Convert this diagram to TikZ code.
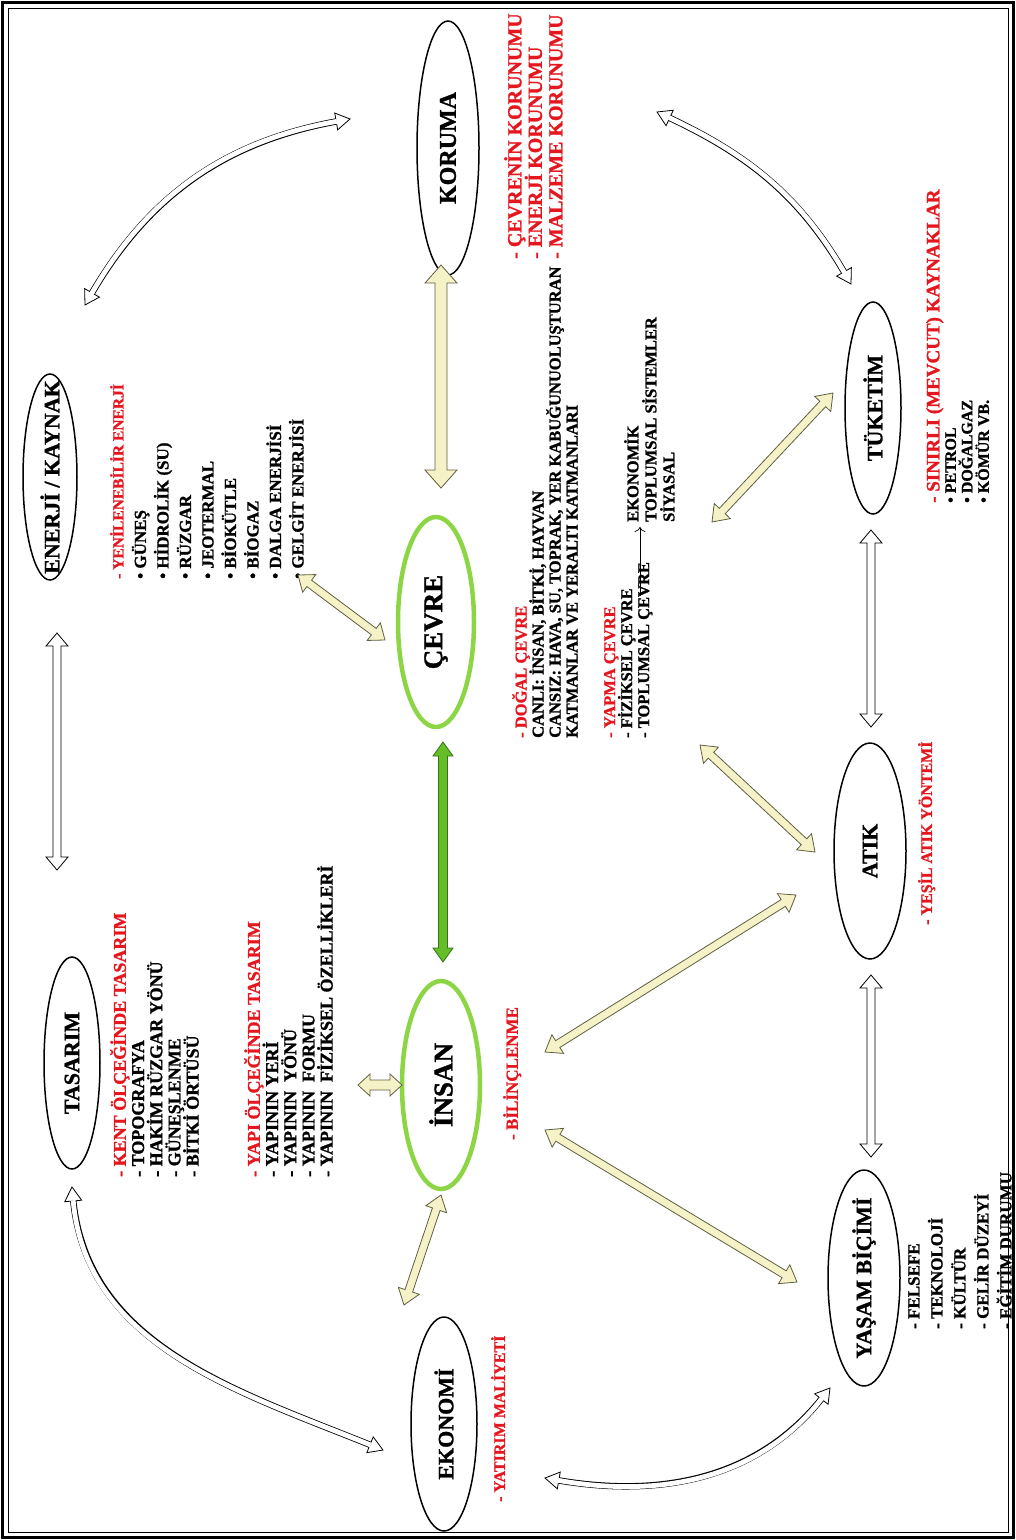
\documentclass[tikz,border=0pt]{standalone}
\usepackage{fontspec}
\setmainfont{Liberation Serif}[BoldFeatures={FakeBold=1.2}]
\usetikzlibrary{calc,shapes.geometric,arrows.meta}
\definecolor{txtred}{RGB}{228,22,30}
\definecolor{ovalgreen}{RGB}{140,214,70}
\definecolor{cream}{RGB}{245,242,200}
\definecolor{olive}{RGB}{95,95,65}
\definecolor{leaf}{RGB}{100,190,40}
\definecolor{leafdark}{RGB}{55,115,20}
\lineskiplimit=-100pt
\newcommand{\setfs}[2]{\fontsize{#1}{#2}\selectfont\bfseries}
\newcommand{\red}[1]{\textcolor{txtred}{#1}}
% straight block arrow with a head at both ends
\newcommand{\blockarrow}[6]{%
  \coordinate (ha) at ($(#2)!#4!(#3)$);
  \coordinate (hb) at ($(#3)!#4!(#2)$);
  \draw[#1] (#2) -- ($(ha)!#5!90:(#3)$) -- ($(ha)!#6!90:(#3)$)
    -- ($(hb)!#6!-90:(#2)$) -- ($(hb)!#5!-90:(#2)$) -- (#3)
    -- ($(hb)!#5!90:(#2)$) -- ($(hb)!#6!90:(#2)$)
    -- ($(ha)!#6!-90:(#3)$) -- ($(ha)!#5!-90:(#3)$) -- cycle;
}
% bent hollow arrow, heads at both ends
\newcommand{\bentarrow}[4]{%
  \draw[line width=6.4pt, shorten <=10pt, shorten >=10pt] (#1) to[out=#3, in=#4] (#2);
  \draw[hollow] (#1) -- ($(#1)+(#3:14)+(#3+90:8.5)$) -- ($(#1)+(#3:14)+(#3-90:8.5)$) -- cycle;
  \draw[hollow] (#2) -- ($(#2)+(#4:14)+(#4+90:8.5)$) -- ($(#2)+(#4:14)+(#4-90:8.5)$) -- cycle;
  \draw[white, line width=4.8pt, shorten <=13.3pt, shorten >=13.3pt] (#1) to[out=#3, in=#4] (#2);
}
\tikzset{
 oval/.style={ellipse, draw, line width=1.5pt, rotate=90, inner sep=0pt, font=\setfs{22}{26}},
 greenoval/.style={oval, draw=ovalgreen, line width=4.5pt, font=\setfs{27}{30}},
 list/.style={rotate=90, anchor=north west, inner sep=0pt, align=left},
 hollow/.style={draw=black, fill=white, line width=0.8pt},
 yellowish/.style={draw=olive, fill=cream, line width=0.8pt},
 greenish/.style={draw=leafdark, fill=leaf, line width=0.8pt},
}

\begin{document}
\begin{tikzpicture}[x=1pt, y=1pt]
\useasboundingbox (0,0) rectangle (1016,-1540);
% frame
\draw[line width=2.4pt] (2.5,-2.5) rectangle (1013.5,-1537.5);
\draw[line width=1pt] (8,-8) rectangle (1008,-1532);

% ovals
\node[oval, minimum width=206pt, minimum height=54pt] (enerji) at (50,-477) {\makebox[0pt]{ENERJİ / KAYNAK}};
\node[oval, minimum width=212pt, minimum height=56pt] (tasarim) at (72,-1063) {\makebox[0pt]{TASARIM}};
\node[oval, minimum width=254pt, minimum height=62pt, font=\setfs{24}{28}] (koruma) at (448,-148) {\makebox[0pt]{KORUMA}};
\node[greenoval, minimum width=210pt, minimum height=76pt] (cevre) at (436,-622) {\makebox[0pt]{ÇEVRE}};
\node[greenoval, minimum width=208pt, minimum height=78pt] (insan) at (441,-1085) {\makebox[0pt]{İNSAN}};
\node[oval, minimum width=214pt, minimum height=66pt] (ekonomi) at (444,-1424) {\makebox[0pt]{EKONOMİ}};
\node[oval, minimum width=212pt, minimum height=56pt] (tuketim) at (873,-408) {\makebox[0pt]{TÜKETİM}};
\node[oval, minimum width=216pt, minimum height=72pt] (atik) at (870,-851) {\makebox[0pt]{ATIK}};
\node[oval, minimum width=216pt, minimum height=72pt] (yasam) at (864,-1278) {\makebox[0pt]{YAŞAM BİÇİMİ}};

% lists
\node[list, font=\setfs{20}{20.5}, text=txtred] (korumaList) at (504,-259)
  {- ÇEVRENİN KORUNUMU\\- ENERJİ KORUNUMU\\- MALZEME KORUNUMU};
\node[list, font=\setfs{17}{22.5}] (enerjiList) at (110,-579)
  {\red{\fontsize{15.5}{22.5}\selectfont - YENİLENEBİLİR ENERJİ}\\• GÜNEŞ\\• HİDROLİK (SU)\\• RÜZGAR\\• JEOTERMAL\\
   • BİOKÜTLE\\• BİOGAZ\\• DALGA ENERJİSİ\\• GELGİT ENERJİSİ};
\node[list, font=\setfs{18}{18.2}] (kentList) at (110,-1177)
  {\red{- KENT ÖLÇEĞİNDE TASARIM}\\- TOPOGRAFYA\\- HAKİM RÜZGAR YÖNÜ\\- GÜNEŞLENME\\- BİTKİ ÖRTÜSÜ};
\node[list, font=\setfs{18}{18.2}] (yapiList) at (244,-1177)
  {\red{- YAPI ÖLÇEĞİNDE TASARIM}\\- YAPININ YERİ\\- YAPININ~ YÖNÜ\\- YAPININ~ FORMU\\- YAPININ~ FİZİKSEL ÖZELLİKLERİ};
\node[list, font=\setfs{16.5}{17}] (dogalList) at (512,-738)
  {\red{- DOĞAL ÇEVRE}\\CANLI: İNSAN, BİTKİ, HAYVAN\\CANSIZ: HAVA, SU, TOPRAK, YER KABUĞUNUOLUŞTURAN\\
   KATMANLAR VE YERALTI KATMANLARI};
\node[list, font=\setfs{16.5}{17}] (yapmaList) at (604,-738)
  {\red{- YAPMA ÇEVRE}\\- FİZİKSEL ÇEVRE\\- TOPLUMSAL ÇEVRE};
\node[list, font=\setfs{16.5}{18}] (sistemList) at (624,-522)
  {EKONOMİK\\TOPLUMSAL SİSTEMLER\\SİYASAL};
\node[list, font=\setfs{16}{16.5}] (tuketimList) at (926,-503)
  {\red{\fontsize{19}{16.5}\selectfont - SINIRLI (MEVCUT) KAYNAKLAR}\\• PETROL\\• DOĞALGAZ\\• KÖMÜR VB.};
\node[list, font=\setfs{17}{23}] (yasamList) at (908,-1329)
  {- FELSEFE\\- TEKNOLOJİ\\- KÜLTÜR\\- GELİR DÜZEYİ\\- EĞİTİM DURUMU};
\node[list, font=\setfs{17}{20}, text=txtred] (bilinc) at (503,-1140) {- BİLİNÇLENME};
\node[list, font=\setfs{16}{20}, text=txtred] (yatirim) at (491,-1502) {- YATIRIM MALİYETİ};
\node[list, font=\setfs{16}{20}, text=txtred] (yesil) at (918,-925) {- YEŞİL ATIK YÖNTEMİ};

% arrow inside the environment text
\coordinate (fizEnd) at (640,-596);
\coordinate (ekoTip) at (640,-527);
\draw[line width=0.7pt, -{To[length=5pt,width=11pt]}] (fizEnd) -- (ekoTip);

% hollow straight arrows
\coordinate (ene-t) at (57,-633);   \coordinate (tas-t) at (57,-870);
\coordinate (tuk-t) at (871,-530);  \coordinate (atk-t1) at (871,-727);
\coordinate (atk-t2) at (871,-975); \coordinate (yas-t) at (871,-1157);
\blockarrow{hollow}{ene-t}{tas-t}{13pt}{11pt}{4pt}
\blockarrow{hollow}{tuk-t}{atk-t1}{13pt}{11pt}{4pt}
\blockarrow{hollow}{atk-t2}{yas-t}{13pt}{11pt}{4pt}

% hollow bent arrows
\coordinate (ene-k) at (85,-305);   \coordinate (kor-e) at (350,-119);
\coordinate (kor-t) at (657,-112);  \coordinate (tuk-k) at (851,-284);
\coordinate (tas-e) at (72,-1187);  \coordinate (eko-t) at (383,-1450);
\coordinate (eko-y) at (545,-1478); \coordinate (yas-e) at (830,-1388);
\bentarrow{ene-k}{kor-e}{60}{190}
\bentarrow{kor-t}{tuk-k}{-25}{120}
\bentarrow{tas-e}{eko-t}{-85}{158}
\bentarrow{eko-y}{yas-e}{-10}{232}

% yellow arrows
\coordinate (cev-k) at (441,-488);  \coordinate (kor-c) at (441,-265);
\coordinate (enl-c) at (298,-575);  \coordinate (cev-e) at (385,-640);
\coordinate (dog-t) at (712,-522);  \coordinate (tuk-d) at (833,-393);
\coordinate (yap-a) at (700,-745);  \coordinate (atk-y) at (815,-852);
\coordinate (ins-a) at (545,-1052); \coordinate (atk-i) at (796,-895);
\coordinate (ins-y) at (545,-1130); \coordinate (yas-i) at (797,-1282);
\coordinate (yap-i) at (358,-1085); \coordinate (ins-t) at (402,-1085);
\coordinate (ins-e) at (441,-1195); \coordinate (eko-i) at (404,-1305);
\blockarrow{yellowish}{cev-k}{kor-c}{18pt}{16pt}{6pt}
\blockarrow{yellowish}{enl-c}{cev-e}{14pt}{11pt}{4pt}
\blockarrow{yellowish}{dog-t}{tuk-d}{15pt}{11pt}{4pt}
\blockarrow{yellowish}{yap-a}{atk-y}{15pt}{11pt}{4pt}
\blockarrow{yellowish}{ins-a}{atk-i}{15pt}{11pt}{4pt}
\blockarrow{yellowish}{ins-y}{yas-i}{15pt}{11pt}{4pt}
\blockarrow{yellowish}{yap-i}{ins-t}{12pt}{11pt}{5pt}
\blockarrow{yellowish}{ins-e}{eko-i}{15pt}{11pt}{4pt}

% green arrow
\coordinate (cev-i) at (443,-742);  \coordinate (ins-c) at (443,-962);
\blockarrow{greenish}{cev-i}{ins-c}{14pt}{10pt}{4.5pt}
\end{tikzpicture}
\end{document}
